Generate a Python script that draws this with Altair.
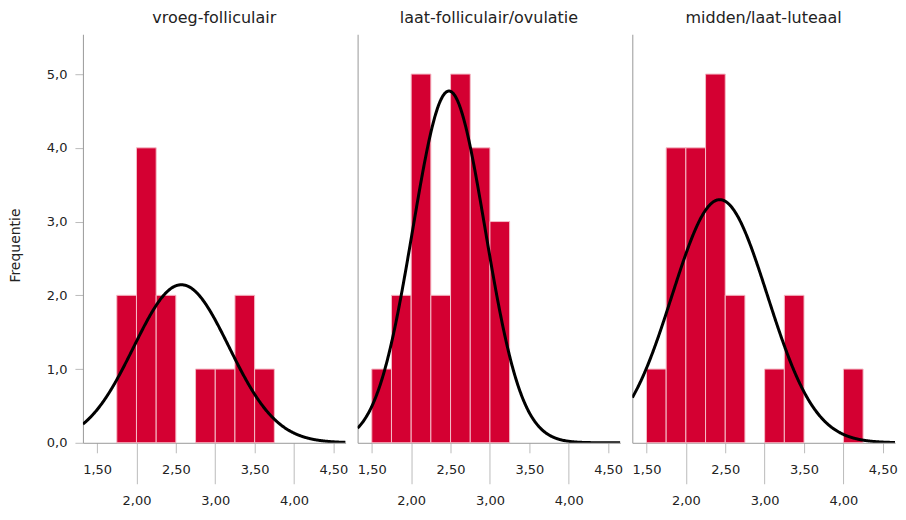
import altair as alt
import pandas as pd

PANELS = ["vroeg-folliculair", "laat-folliculair/ovulatie", "midden/laat-luteaal"]
BIN_WIDTH = 0.25
BIN_STARTS = [
    [1.75, 2.00, 2.25, 2.75, 3.00, 3.25, 3.50],
    [1.50, 1.75, 2.00, 2.25, 2.50, 2.75, 3.00],
    [1.50, 1.75, 2.00, 2.25, 2.50, 3.00, 3.25, 4.00],
]
COUNTS = [
    [2, 4, 2, 1, 1, 2, 1],
    [1, 2, 5, 2, 5, 4, 3],
    [1, 4, 4, 5, 2, 1, 2, 1],
]
MEANS = [2.57, 2.48, 2.43]
SDS = [0.605, 0.46, 0.605]
NS = [13, 22, 20]

X_DOMAIN = [1.32, 4.655]
Y_DOMAIN = [0, 5.54]
X_TICKS = [1.5, 2.0, 2.5, 3.0, 3.5, 4.0, 4.5]
Y_TICKS = [0, 1, 2, 3, 4, 5]

FONT = "DejaVu Sans"
TEXT = "#222222"
BAR = "#D40032"

x_scale = alt.Scale(domain=X_DOMAIN, nice=False, zero=False)
y_scale = alt.Scale(domain=Y_DOMAIN, nice=False)

x_axis = alt.Axis(
    values=X_TICKS,
    labelExpr="replace(format(datum.value, '.2f'), '.', ',')",
    title=None,
    grid=False,
    domainColor="#999999",
    tickColor="#BBBBBB",
    tickSize={"condition": {"test": "round(datum.value * 2) % 2 == 0", "value": 41}, "value": 10},
    labelPadding=11,
    labelFont=FONT,
    labelFontSize=13,
    labelColor=TEXT,
)

panels = []
for i, name in enumerate(PANELS):
    df = pd.DataFrame({
        "start": BIN_STARTS[i],
        "end": [s + BIN_WIDTH for s in BIN_STARTS[i]],
        "count": COUNTS[i],
        "base": [0] * len(COUNTS[i]),
    })
    if i == 0:
        y_axis = alt.Axis(
            values=Y_TICKS,
            labelExpr="replace(format(datum.value, '.1f'), '.', ',')",
            title="Frequentie",
            grid=False,
            domainColor="#999999",
            tickColor="#BBBBBB",
            tickSize=8,
            labelPadding=8,
            titlePadding=24,
            titleY=211,
            labelFont=FONT,
            labelFontSize=13,
            labelColor=TEXT,
            titleFont=FONT,
            titleFontSize=14,
            titleFontWeight="normal",
            titleColor=TEXT,
        )
    else:
        y_axis = alt.Axis(
            values=Y_TICKS, labels=False, ticks=False, title=None, grid=False,
            domainColor="#999999",
        )
    bars = alt.Chart(df).mark_bar(color=BAR, stroke="#F5BCC7", strokeWidth=1).encode(
        x=alt.X("start:Q", scale=x_scale, axis=x_axis),
        x2="end:Q",
        y=alt.Y("count:Q", scale=y_scale, axis=y_axis),
        y2="base:Q",
    )
    m, s, n = MEANS[i], SDS[i], NS[i]
    curve = alt.Chart(alt.sequence(X_DOMAIN[0], X_DOMAIN[1] + 0.005, 0.005, as_="xv")).transform_calculate(
        dens=f"{n} * {BIN_WIDTH} * exp(-0.5 * pow((datum.xv - {m}) / {s}, 2)) / ({s} * sqrt(2 * PI))"
    ).mark_line(color="black", strokeWidth=3, clip=True).encode(
        x=alt.X("xv:Q", scale=x_scale),
        y=alt.Y("dens:Q", scale=y_scale),
    )
    panel = alt.layer(bars, curve).properties(
        width=263,
        height=409,
        title=alt.TitleParams(name, font=FONT, fontSize=16, fontWeight="normal",
                              color=TEXT, anchor="middle", offset=8),
    )
    panels.append(panel)

chart = alt.hconcat(*panels, spacing=12, bounds="flush").properties(
    padding={"left": 0, "top": 2, "right": 0, "bottom": 0}
).configure_view(stroke=None)

chart.save("out.html", embed_options={"renderer": "svg", "actions": False})
